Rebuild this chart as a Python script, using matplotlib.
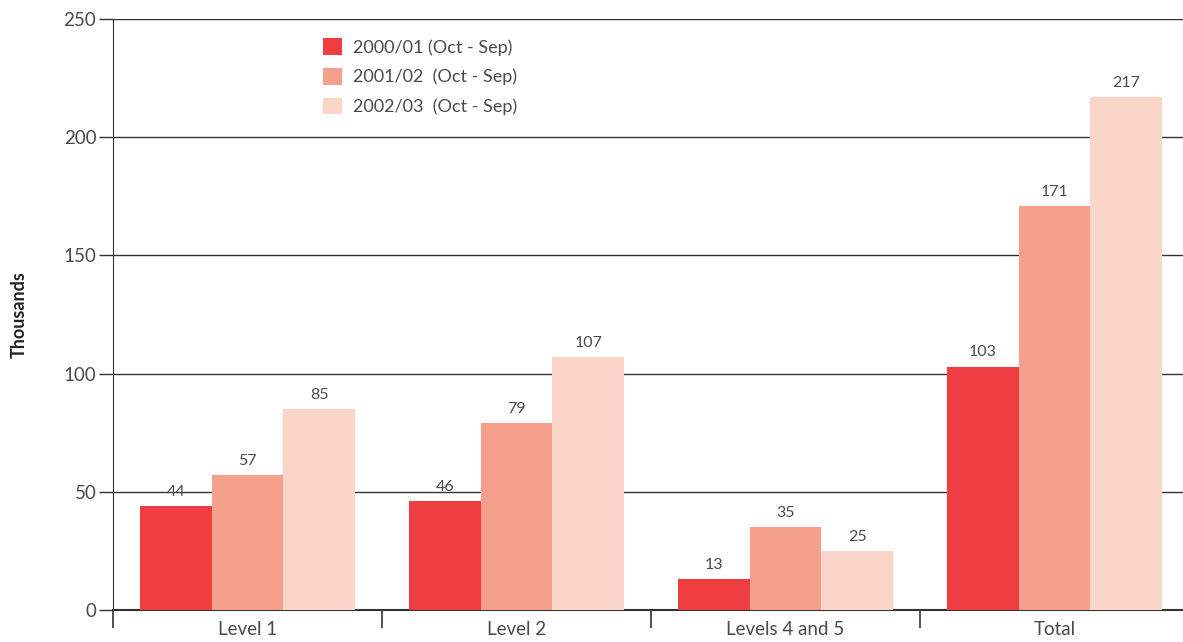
import matplotlib
matplotlib.use("Agg")
import matplotlib.pyplot as plt
import numpy as np

categories = ["Level 1", "Level 2", "Levels 4 and 5", "Total"]
series_labels = ["2000/01 (Oct - Sep)", "2001/02  (Oct - Sep)", "2002/03  (Oct - Sep)"]
values_2000 = [44, 46, 13, 103]
values_2001 = [57, 79, 35, 171]
values_2002 = [85, 107, 25, 217]
colors = ["#EF3E42", "#F5A08C", "#FBD5CA"]
y_ticks = [0, 50, 100, 150, 200, 250]

plt.rcParams["font.family"] = ["Lato", "DejaVu Sans"]
text_color = "#4a4a4a"
line_color = "#333333"

fig = plt.figure(figsize=(11.83, 6.42), dpi=100)
ax = fig.add_axes([113 / 1183, 1 - 610 / 642, 1076 / 1183, 591 / 642])

x = np.arange(len(categories))
width = 0.267
series = [values_2000, values_2001, values_2002]
for i, (vals, col, lab) in enumerate(zip(series, colors, series_labels)):
    pos = x + (i - 1) * width
    ax.bar(pos, vals, width=width, color=col, label=lab, zorder=3, linewidth=0)
    for xp, v in zip(pos, vals):
        ax.text(xp, v + 3, str(v), ha="center", va="bottom", fontsize=11.5,
                color=text_color)

ax.set_xlim(-0.5, 3.5)
ax.set_ylim(0, 250)
ax.set_yticks(y_ticks)
ax.set_yticklabels([str(t) for t in y_ticks], fontsize=13.5, color=text_color)
ax.yaxis.grid(True, color=line_color, linewidth=1, zorder=0)
ax.set_axisbelow(True)
ax.tick_params(axis="y", length=10, width=1, color=line_color, pad=2)

ax.set_xticks(x)
ax.set_xticklabels(categories, fontsize=13.5, color=text_color)
ax.set_xticks(np.arange(-0.5, 3.5, 1.0), minor=True)
ax.tick_params(axis="x", which="major", length=0, pad=8)
ax.tick_params(axis="x", which="minor", length=13, width=1.2, color=line_color)

for side in ["top", "right"]:
    ax.spines[side].set_visible(False)
ax.spines["left"].set_color(line_color)
ax.spines["bottom"].set_color(line_color)
ax.spines["bottom"].set_linewidth(1.5)

ax.set_ylabel("Thousands", fontsize=13, fontweight="bold", color="#222222", labelpad=26)

leg = ax.legend(loc="upper left", bbox_to_anchor=(0.1885, 0.98), frameon=False,
                fontsize=13, handlelength=1.05, handleheight=1.05, handletextpad=0.6,
                labelspacing=0.68, borderaxespad=0)
for t in leg.get_texts():
    t.set_color(text_color)

fig.savefig("out.png", dpi=100)
